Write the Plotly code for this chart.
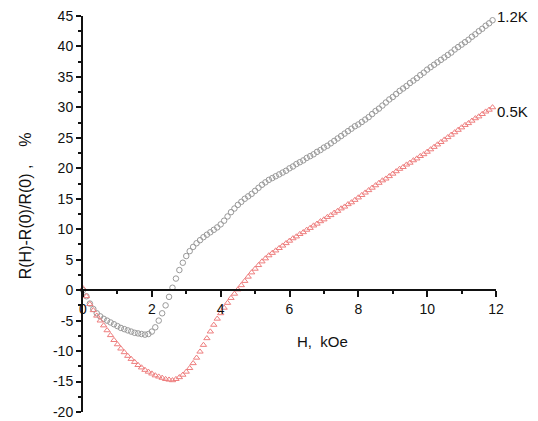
import plotly.graph_objects as go

H = [0.0, 0.1, 0.2, 0.3, 0.4, 0.5, 0.6, 0.7, 0.8, 0.9,
     1.0, 1.1, 1.2, 1.3, 1.4, 1.5, 1.6, 1.7, 1.8, 1.9,
     2.0, 2.1, 2.2, 2.3, 2.4, 2.5, 2.6, 2.7, 2.8, 2.9,
     3.0, 3.1, 3.2, 3.3, 3.4, 3.5, 3.6, 3.7, 3.8, 3.9,
     4.0, 4.1, 4.2, 4.3, 4.4, 4.5, 4.6, 4.7, 4.8, 4.9,
     5.0, 5.1, 5.2, 5.3, 5.4, 5.5, 5.6, 5.7, 5.8, 5.9,
     6.0, 6.1, 6.2, 6.3, 6.4, 6.5, 6.6, 6.7, 6.8, 6.9,
     7.0, 7.1, 7.2, 7.3, 7.4, 7.5, 7.6, 7.7, 7.8, 7.9,
     8.0, 8.1, 8.2, 8.3, 8.4, 8.5, 8.6, 8.7, 8.8, 8.9,
     9.0, 9.1, 9.2, 9.3, 9.4, 9.5, 9.6, 9.7, 9.8, 9.9,
     10.0, 10.1, 10.2, 10.3, 10.4, 10.5, 10.6, 10.7, 10.8, 10.9,
     11.0, 11.1, 11.2, 11.3, 11.4, 11.5, 11.6, 11.7, 11.8, 11.9]

mr_1p2K = [0.0, -1.0, -2.2, -3.1, -3.8, -4.3, -4.7, -5.0, -5.3, -5.6,
           -5.9, -6.2, -6.4, -6.6, -6.8, -7.0, -7.1, -7.2, -7.3, -7.2,
           -6.8, -6.1, -5.0, -3.8, -2.5, -1.1, 0.4, 1.9, 3.3, 4.5,
           5.6, 6.4, 7.1, 7.7, 8.2, 8.7, 9.1, 9.5, 9.9, 10.3,
           10.8, 11.4, 12.1, 12.8, 13.4, 14.0, 14.5, 15.0, 15.4, 15.8,
           16.3, 16.8, 17.3, 17.7, 18.1, 18.4, 18.7, 19.0, 19.3, 19.6,
           20.0, 20.3, 20.7, 21.0, 21.3, 21.7, 22.0, 22.3, 22.7, 23.0,
           23.4, 23.7, 24.1, 24.5, 24.9, 25.3, 25.7, 26.1, 26.5, 26.9,
           27.2, 27.6, 28.0, 28.4, 28.9, 29.4, 29.8, 30.3, 30.8, 31.3,
           31.7, 32.2, 32.7, 33.1, 33.5, 34.0, 34.4, 34.8, 35.3, 35.7,
           36.2, 36.6, 37.0, 37.4, 37.8, 38.2, 38.6, 39.0, 39.5, 39.9,
           40.3, 40.7, 41.1, 41.6, 42.0, 42.5, 42.9, 43.4, 43.8, 44.3]

mr_0p5K = [0.3, -1.0, -2.3, -3.3, -4.2, -5.0, -5.8, -6.6, -7.4, -8.2,
           -8.9, -9.6, -10.2, -10.8, -11.3, -11.8, -12.3, -12.7, -13.1, -13.4,
           -13.7, -14.0, -14.2, -14.4, -14.6, -14.7, -14.8, -14.6, -14.3, -13.9,
           -13.4, -12.8, -12.0, -11.1, -10.1, -9.0, -7.9, -6.8, -5.7, -4.7,
           -3.8, -2.9, -2.1, -1.3, -0.6, 0.1, 0.8, 1.5, 2.2, 2.9,
           3.5, 4.1, 4.7, 5.2, 5.7, 6.1, 6.5, 6.9, 7.3, 7.7,
           8.1, 8.5, 8.8, 9.2, 9.5, 9.9, 10.2, 10.6, 10.9, 11.3,
           11.6, 12.0, 12.3, 12.7, 13.0, 13.4, 13.7, 14.1, 14.4, 14.8,
           15.2, 15.6, 16.0, 16.4, 16.8, 17.2, 17.6, 18.0, 18.3, 18.7,
           19.1, 19.5, 19.9, 20.2, 20.6, 20.9, 21.3, 21.6, 22.0, 22.3,
           22.7, 23.1, 23.5, 23.9, 24.3, 24.7, 25.1, 25.5, 25.9, 26.3,
           26.7, 27.1, 27.4, 27.8, 28.2, 28.5, 28.9, 29.3, 29.6, 30.0]

x_ticks = [0, 2, 4, 6, 8, 10, 12]
x_ticktext = ["0", "2", "4", "6", "8", "10", "12"]
y_ticks = [-20, -15, -10, -5, 0, 5, 10, 15, 20, 25, 30, 35, 40, 45]
y_ticktext = ["-20", "-15", "-10", "-5", "0", "5", "10", "15", "20", "25", "30", "35", "40", "45"]
series_labels = ["1.2K", "0.5K"]
label_pos_y = [44.9, 29.3]

X_MIN, X_MAX = 0, 12
Y_MIN, Y_MAX = -20, 45

FONT = "Liberation Sans, Arial, sans-serif"
GREY = "#999999"
RED = "#ee7e7e"

fig = go.Figure()
fig.add_trace(go.Scatter(
    x=H, y=mr_1p2K, mode="markers", name=series_labels[0],
    marker=dict(symbol="circle-open", size=5.5, color=GREY, line=dict(width=1, color=GREY)),
    cliponaxis=False,
))
fig.add_trace(go.Scatter(
    x=H, y=mr_0p5K, mode="markers", name=series_labels[1],
    marker=dict(symbol="triangle-up-open", size=5.5, color=RED, line=dict(width=1, color=RED)),
    cliponaxis=False,
))

for lab, yy in zip(series_labels, label_pos_y):
    fig.add_annotation(x=11.98, y=yy, xref="x", yref="y", text=lab, showarrow=False,
                       xanchor="left", yanchor="middle",
                       font=dict(family=FONT, size=15, color="#111"))

fig.add_annotation(x=-0.140, y=0.52, xref="paper", yref="paper",
                   text="R(H)-R(0)/R(0)\u00a0,\u00a0\u00a0\u00a0\u00a0%", textangle=-90,
                   showarrow=False, xanchor="center", yanchor="middle",
                   font=dict(family=FONT, size=16, color="#111"))
fig.add_annotation(x=0.579, y=0.177, xref="paper", yref="paper",
                   text="H,\u00a0\u00a0kOe", showarrow=False,
                   xanchor="center", yanchor="middle",
                   font=dict(family=FONT, size=15, color="#111"))

fig.update_layout(
    width=530, height=413,
    margin=dict(l=75, r=42, t=8, b=9),
    paper_bgcolor="white", plot_bgcolor="white",
    showlegend=False,
    font=dict(family=FONT, size=14, color="#111"),
    xaxis=dict(
        range=[X_MIN, X_MAX], anchor="free", position=(0 - Y_MIN) / (Y_MAX - Y_MIN),
        automargin=False, ticklabeloverflow="allow",
        showline=True, linecolor="#111", linewidth=2, mirror=False,
        showgrid=False, zeroline=False,
        tickmode="array", tickvals=x_ticks, ticktext=x_ticktext,
        ticks="outside", ticklen=6, tickwidth=1.5, tickcolor="#111",
        minor=dict(dtick=1, tick0=0, ticks="outside", ticklen=3, tickwidth=1.5, tickcolor="#111", showgrid=False),
        tickfont=dict(family=FONT, size=14, color="#111"),
    ),
    yaxis=dict(
        range=[Y_MIN, Y_MAX],
        automargin=False, ticklabeloverflow="allow",
        showline=True, linecolor="#111", linewidth=2,
        showgrid=False, zeroline=False,
        tickmode="array", tickvals=y_ticks, ticktext=y_ticktext,
        ticks="outside", ticklen=5, tickwidth=1.5, tickcolor="#111",
        minor=dict(dtick=2.5, tick0=0, ticks="outside", ticklen=3, tickwidth=1.5, tickcolor="#111", showgrid=False),
        tickfont=dict(family=FONT, size=14, color="#111"),
    ),
)

fig.write_html("out.html")
